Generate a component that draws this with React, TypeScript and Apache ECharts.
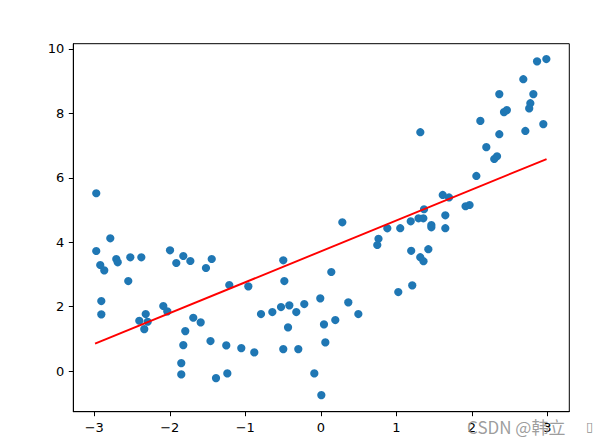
import React, { useEffect, useRef } from "react";
import * as echarts from "echarts";

const pointsX: number[] = [
  -2.974, -2.788, -2.974, -2.921, -2.868, -2.709, -2.69, -2.523, -2.377, -2.55,
  -2.907, -2.907, -1.997, -1.914, -1.821, -1.728, -1.521, -1.445, -2.404, -2.319,
  -2.293, -2.338, -2.086, -2.033, -1.689, -1.591, -1.795, -1.821, -1.848, -1.848,
  -1.461, -0.497, -1.212, -0.96, -0.483, 0.139, -0.792, -0.642, -0.527, -0.417,
  -0.325, -0.219, -0.007, -0.434, 0.042, -1.252, -1.053, -0.881, -0.497, -0.298,
  0.06, -1.388, -1.238, -0.086, 0.007, 1.318, 0.285, 1.615, 1.698, 1.367,
  1.294, 1.358, 1.191, 1.464, 1.464, 1.649, 1.649, 0.881, 1.052, 0.764,
  0.748, 1.197, 1.424, 1.317, 1.36, 0.364, 1.026, 1.211, 0.192, 0.497,
  2.864, 2.987, 2.682, 2.364, 2.815, 2.775, 2.76, 2.426, 2.464, 2.113,
  2.709, 2.947, 2.364, 2.192, 2.297, 2.334, 2.06, 1.917, 1.97,
];

const pointsY: number[] = [
  5.519, 4.121, 3.727, 3.292, 3.127, 3.478, 3.376, 3.531, 3.531, 2.795,
  2.174, 1.761, 3.748, 3.354, 3.571, 3.416, 3.199, 3.478, 1.562, 1.77,
  1.531, 1.304, 2.019, 1.854, 1.655, 1.512, 1.242, 0.807, 0.248, -0.102,
  0.932, 3.438, 2.671, 2.63, 2.795, 3.075, 1.77, 1.832, 1.988, 2.04,
  1.832, 2.081, 2.258, 1.357, 1.45, 0.798, 0.714, 0.581, 0.683, 0.683,
  0.891, -0.217, -0.071, -0.071, -0.745, 7.413, 4.618, 5.466, 5.388, 5.022,
  4.742, 4.742, 4.649, 4.534, 4.463, 4.835, 4.435, 4.432, 4.435, 4.106,
  3.913, 3.733, 3.783, 3.534, 3.41, 2.134, 2.453, 2.661, 1.584, 1.77,
  9.612, 9.683, 9.059, 8.596, 8.596, 8.314, 8.152, 8.037, 8.099, 7.764,
  7.453, 7.665, 7.351, 6.95, 6.584, 6.668, 6.056, 5.115, 5.155,
];

const lineX: number[] = [-2.99, 2.99];
const lineY: number[] = [0.85, 6.58];

const xTicks: number[] = [-3, -2, -1, 0, 1, 2, 3];
const yTicks: number[] = [0, 2, 4, 6, 8, 10];

const fmt = (v: number) => String(v).replace("-", "\u2212");

export default function App() {
  const ref = useRef<HTMLDivElement>(null);

  useEffect(() => {
    if (!ref.current) return;
    const chart = echarts.init(ref.current, undefined, { renderer: "svg" });
    const font = "DejaVu Sans";
    chart.setOption({
      animation: false,
      backgroundColor: "#ffffff",
      grid: {
        left: 73.3,
        right: 38.7,
        top: 43.7,
        bottom: 34.3,
        show: true,
        borderColor: "#000000",
        borderWidth: 1,
        backgroundColor: "transparent",
        containLabel: false,
        outerBoundsMode: "none",
      },
      xAxis: {
        type: "value",
        min: -3.278,
        max: 3.291,
        splitLine: { show: false },
        axisLine: { show: true, onZero: false, lineStyle: { color: "#000", width: 1 } },
        axisTick: {
          show: true,
          length: 4.5,
          lineStyle: { color: "#000", width: 1 },
          customValues: xTicks,
        },
        axisLabel: {
          customValues: xTicks,
          formatter: (v: number) => fmt(v),
          color: "#000",
          fontSize: 13,
          fontFamily: font,
          margin: 9,
        },
      },
      yAxis: {
        type: "value",
        min: -1.26,
        max: 10.16,
        splitLine: { show: false },
        axisLine: { show: true, onZero: false, lineStyle: { color: "#000", width: 1 } },
        axisTick: {
          show: true,
          length: 4.5,
          lineStyle: { color: "#000", width: 1 },
          customValues: yTicks,
        },
        axisLabel: {
          customValues: yTicks,
          formatter: (v: number) => fmt(v),
          color: "#000",
          fontSize: 13,
          fontFamily: font,
          margin: 9,
        },
      },
      series: [
        {
          type: "scatter",
          data: pointsX.map((x, i) => [x, pointsY[i]]),
          symbol: "circle",
          symbolSize: 8.2,
          itemStyle: { color: "#1f77b4", opacity: 1 },
          z: 2,
        },
        {
          type: "line",
          data: lineX.map((x, i) => [x, lineY[i]]),
          showSymbol: false,
          symbol: "none",
          lineStyle: { color: "#ff0000", width: 1.9 },
          z: 3,
        },
      ],
      graphic: [
        {
          type: "text",
          left: 467,
          top: 418,
          z: 100,
          style: {
            text: "CSDN @韩立",
            fontSize: 17,
            fontFamily: "Noto Sans CJK SC",
            fill: "rgba(140,140,140,0.85)",
          },
        },
        {
          type: "text",
          left: 586,
          top: 420,
          z: 100,
          style: {
            text: "\u25AF",
            fontSize: 13,
            fontFamily: "DejaVu Sans",
            fill: "rgba(120,120,120,0.85)",
          },
        },
      ],
    });
    return () => chart.dispose();
  }, []);

  return (
    <div
      ref={ref}
      style={{ position: "absolute", left: 0, top: 0, width: 608, height: 446 }}
    />
  );
}
